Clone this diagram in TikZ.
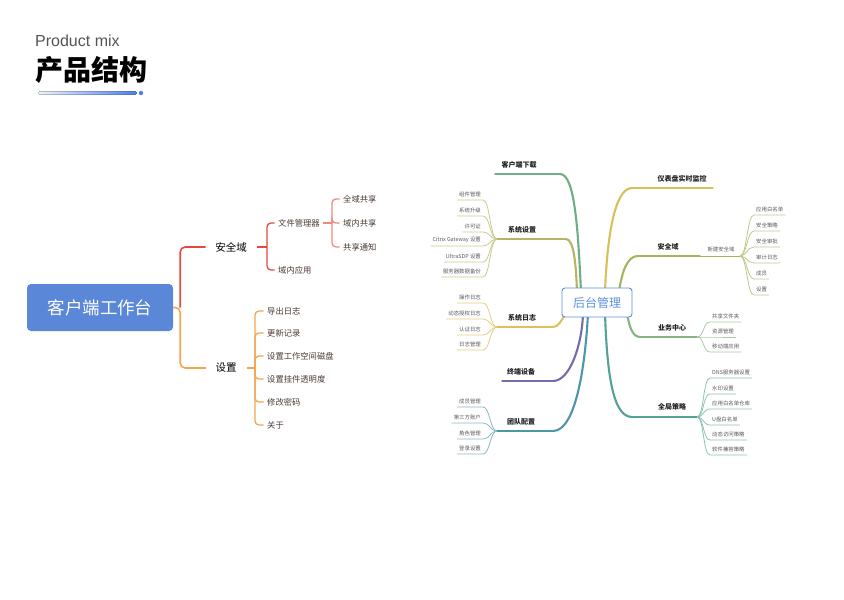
\documentclass[tikz,border=0pt]{standalone}
\usepackage{fontspec}
\setmainfont{Noto Sans CJK SC}
\newfontfamily\latinsans{Liberation Sans}
\usetikzlibrary{backgrounds,calc}
\definecolor{wsblue}{HTML}{5A87D7}
\definecolor{hubblue}{HTML}{5B8FDE}
\definecolor{titlegray}{HTML}{555555}
\definecolor{gradl}{HTML}{EEF3FE}
\definecolor{gradr}{HTML}{4D7EF2}
\definecolor{lred}{HTML}{E8483B}
\definecolor{lsalmon}{HTML}{F08A7E}
\definecolor{lorange}{HTML}{F3A552}
\definecolor{ltext}{HTML}{4A3A33}
\definecolor{rtext}{HTML}{222222}
\definecolor{leaftext}{HTML}{5A5A5A}
\definecolor{cKD}{HTML}{6FAE84}
\definecolor{cXS}{HTML}{B3B562}
\definecolor{cXSl}{HTML}{C9CC8C}
\definecolor{cRZ}{HTML}{DCC25E}
\definecolor{cRZl}{HTML}{E3CF84}
\definecolor{cZD}{HTML}{776BAA}
\definecolor{cTD}{HTML}{4D96A8}
\definecolor{cTDl}{HTML}{8DB8C4}
\definecolor{cYB}{HTML}{D8BF5A}
\definecolor{cAQ}{HTML}{A7B35F}
\definecolor{cAQl}{HTML}{BFC88A}
\definecolor{cYW}{HTML}{86B483}
\definecolor{cYWl}{HTML}{A8CBA5}
\definecolor{cQJ}{HTML}{55A294}
\definecolor{cQJl}{HTML}{8DC2B8}
\begin{document}
\begin{tikzpicture}[x=1pt,y=-1pt,
  wsbox/.style={fill=wsblue, rounded corners=4pt, minimum width=146pt, minimum height=47pt, text=white, font=\fontsize{17.5}{20}\selectfont},
  hubbox/.style={fill=white, draw=hubblue, line width=0.9pt, rounded corners=3pt, minimum width=70pt, minimum height=29pt, text=hubblue, font=\fontsize{12}{14}\selectfont},
  lone/.style={font=\fontsize{10.5}{12}\selectfont, text=black},
  ltwo/.style={font=\fontsize{8.3}{10}\selectfont, text=ltext, anchor=west},
  rone/.style={font=\bfseries\fontsize{7}{8}\selectfont, text=rtext, inner sep=1pt},
  leafl/.style={font=\fontsize{5.4}{6}\selectfont, text=leaftext, inner xsep=2pt, inner ysep=2.6pt, anchor=south east},
  leafr/.style={font=\fontsize{5.4}{6}\selectfont, text=leaftext, inner xsep=2pt, inner ysep=2.6pt, anchor=south west},
  lmain/.style={line width=1.6pt},
  lsub/.style={line width=1.3pt},
  mainline/.style={line width=2.1pt, line cap=round},
  ulline/.style={line width=1.4pt, line cap=round},
  leafline/.style={line width=0.8pt},
]
\useasboundingbox (0,0) rectangle (844,600);
\begin{pgfonlayer}{background}
\fill[white] (0,0) rectangle (844,600);
\end{pgfonlayer}

% ---------- title ----------
\node[anchor=west, font=\latinsans\fontsize{16}{18}\selectfont, text=titlegray, inner sep=0] (pm) at (35,41) {Product mix};
\node[anchor=west, font=\bfseries\fontsize{28}{32}\selectfont, text=black, inner sep=0] (cp) at (35,70) {产品结构};
\fill[left color=gradl, right color=gradr, rounded corners=1.5pt] (38,91.3) rectangle (137,94.7);
\fill[gradr] (141,93) circle (2.2pt);

% ---------- left map ----------
\node[wsbox] (ws) at (100,307.5) {客户端工作台};
\node[lone] (aq) at (231,247) {安全域};
\node[lone] (sz) at (226,368) {设置};
\node[ltwo] (wj) at (274.7,223) {文件管理器};
\node[ltwo] (yy) at (274.7,270) {域内应用};
\node[ltwo] (q1) at (339.7,199) {全域共享};
\node[ltwo] (q2) at (339.7,223) {域内共享};
\node[ltwo] (q3) at (339.7,247) {共享通知};
\foreach \t/\y/\n in {导出日志/311/c1, 更新记录/333/c2, 设置工作空间磁盘/356/c3, 设置挂件透明度/379/c4, 修改密码/402/c5, 关于/425/c6}
  \node[ltwo] (\n) at (263.7,\y) {\t};

\coordinate (j1) at ([xshift=7pt]ws.east);
\draw[lred, lmain, rounded corners=5pt] (j1) |- ([xshift=-6pt]aq.west);
\draw[lorange, lmain, rounded corners=5pt] (ws.east) -- (j1) |- ([xshift=-6pt]sz.west);
\coordinate (j2) at (267,247);
\draw[lred, lsub] ([xshift=7pt]aq.east) -- (j2);
\draw[lred, lsub, rounded corners=4pt] (j2) |- (wj.west);
\draw[lred, lsub, rounded corners=4pt] (j2) |- (yy.west);
\coordinate (j3) at (332,223);
\draw[lsalmon, lsub] (wj.east) -- (j3);
\foreach \n in {q1,q2,q3}
  \draw[lsalmon, lsub, rounded corners=4pt] (j3) |- (\n.west);
\coordinate (j4) at (255,368);
\draw[lorange, lsub] ([xshift=7pt]sz.east) -- (j4);
\foreach \n in {c1,c2,c3,c4,c5,c6}
  \draw[lorange, lsub, rounded corners=4pt] (j4) |- (\n.west);

% ---------- right map ----------
\node[hubbox] (hub) at (597,302.5) {后台管理};

% level-1 labels
\node[rone] (kd) at (519,165) {客户端下载};
\node[rone] (xs) at (522,230) {系统设置};
\node[rone] (rz) at (522,318) {系统日志};
\node[rone] (zd) at (521,372) {终端设备};
\node[rone] (td) at (521,422) {团队配置};
\node[rone] (yb) at (682,179) {仪表盘实时监控};
\node[rone] (aq2) at (668,247) {安全域};
\node[leafr, anchor=center, inner sep=0.5pt] (xj) at (721,249) {新建安全域};
\node[rone] (yw) at (672,328) {业务中心};
\node[rone] (qj) at (672,407) {全局策略};

% underline end points
\coordinate (kdA) at (495,174); \coordinate (kdB) at (560,174);
\coordinate (xsA) at (497,239); \coordinate (xsB) at (566,239);
\coordinate (rzA) at (497,327); \coordinate (rzB) at (553,327);
\coordinate (zdA) at (502,381); \coordinate (zdB) at (553,381);
\coordinate (tdA) at (497,431); \coordinate (tdB) at (553,431);
\coordinate (ybA) at (713,188); \coordinate (ybB) at (632,188);
\coordinate (aqA) at (740,256); \coordinate (aqM) at (700,256); \coordinate (aqB) at (638,256);
\coordinate (ywA) at (697,337); \coordinate (ywB) at (640,337);
\coordinate (qjA) at (697,417); \coordinate (qjB) at (632,417);

\begin{pgfonlayer}{background}
\draw[mainline, cKD] ([xshift=-16pt,yshift=-4pt]hub.north) .. controls (578,230) and (575,174) .. (kdB);
\draw[mainline, cXS] ([xshift=-20pt,yshift=-4pt]hub.north) .. controls (576,265) and (574,239) .. (xsB);
\draw[mainline, cRZ] ([xshift=4pt,yshift=3pt]hub.south west) .. controls (561,320) and (559,327) .. (rzB);
\draw[mainline, cZD] ([xshift=-14pt,yshift=4pt]hub.south) .. controls (582,345) and (570,381) .. (zdB);
\draw[mainline, cTD] ([xshift=-9pt,yshift=4pt]hub.south) .. controls (585,370) and (575,431) .. (tdB);
\draw[mainline, cYB] ([xshift=8pt,yshift=-4pt]hub.north) .. controls (607,240) and (614,188) .. (ybB);
\draw[mainline, cAQ] ([xshift=22pt,yshift=-4pt]hub.north) .. controls (622,272) and (627,256) .. (aqB);
\draw[mainline, cYW] ([xshift=30pt,yshift=4pt]hub.south) .. controls (629,325) and (632,337) .. (ywB);
\draw[mainline, cQJ] ([xshift=8pt,yshift=4pt]hub.south) .. controls (607,370) and (612,417) .. (qjB);
\end{pgfonlayer}

\draw[ulline, cKD] (kdB) -- (kdA);
\draw[ulline, cXS] (xsB) -- (xsA);
\draw[ulline, cRZ] (rzB) -- (rzA);
\draw[ulline, cZD] (zdB) -- (zdA);
\draw[ulline, cTD] (tdB) -- (tdA);
\draw[ulline, cYB] (ybB) -- (ybA);
\draw[ulline, cAQ] (aqB) -- (aqM);
\draw[line width=1pt, line cap=round, cAQ] (aqM) -- (aqA);
\draw[ulline, cYW] (ywB) -- (ywA);
\draw[ulline, cQJ] (qjB) -- (qjA);

% leaves: 系统设置
\foreach \t/\u/\n in {组件管理/200/s1, 系统升级/216/s2, 许可证/232/s3, Citrix Gateway 设置/246/s4, UltraSDP 设置/262/s5, 服务器数据备份/277/s6}{
  \node[leafl] (\n) at (483,\u) {\t};
  \draw[leafline, cXSl] (\n.south west) -- (\n.south east) .. controls +(7,0) and +(-7,0) .. (xsA);
}
% leaves: 系统日志
\foreach \t/\u/\n in {操作日志/303/r1, 动态授权日志/319/r2, 认证日志/335/r3, 日志管理/350/r4}{
  \node[leafl] (\n) at (483,\u) {\t};
  \draw[leafline, cRZl] (\n.south west) -- (\n.south east) .. controls +(7,0) and +(-7,0) .. (rzA);
}
% leaves: 团队配置
\foreach \t/\u/\n in {成员管理/407/t1, 第三方账户/423/t2, 角色管理/439/t3, 登录设置/454/t4}{
  \node[leafl] (\n) at (483,\u) {\t};
  \draw[leafline, cTDl] (\n.south west) -- (\n.south east) .. controls +(7,0) and +(-7,0) .. (tdA);
}
% leaves: 新建安全域
\foreach \t/\u/\n in {应用白名单/215/a1, 安全策略/231/a2, 安全审批/247/a3, 审计日志/263/a4, 成员/279/a5, 设置/295/a6}{
  \node[leafr] (\n) at (754,\u) {\t};
  \draw[leafline, cAQl] (aqA) .. controls +(7,0) and +(-7,0) .. (\n.south west) -- (\n.south east);
}
% leaves: 业务中心
\foreach \t/\u/\n in {共享文件夹/322/b1, 资源管理/337/b2, 移动端应用/352/b3}{
  \node[leafr] (\n) at (710,\u) {\t};
  \draw[leafline, cYWl] (ywA) .. controls +(7,0) and +(-7,0) .. (\n.south west) -- (\n.south east);
}
% leaves: 全局策略
\foreach \t/\u/\n in {DNS服务器设置/378/g1, 水印设置/394/g2, 应用白名单仓库/409/g3, U盘白名单/425/g4, 动态访问策略/440/g5, 软件兼容策略/455/g6}{
  \node[leafr] (\n) at (710,\u) {\t};
  \draw[leafline, cQJl] (qjA) .. controls +(7,0) and +(-7,0) .. (\n.south west) -- (\n.south east);
}
\end{tikzpicture}
\end{document}
